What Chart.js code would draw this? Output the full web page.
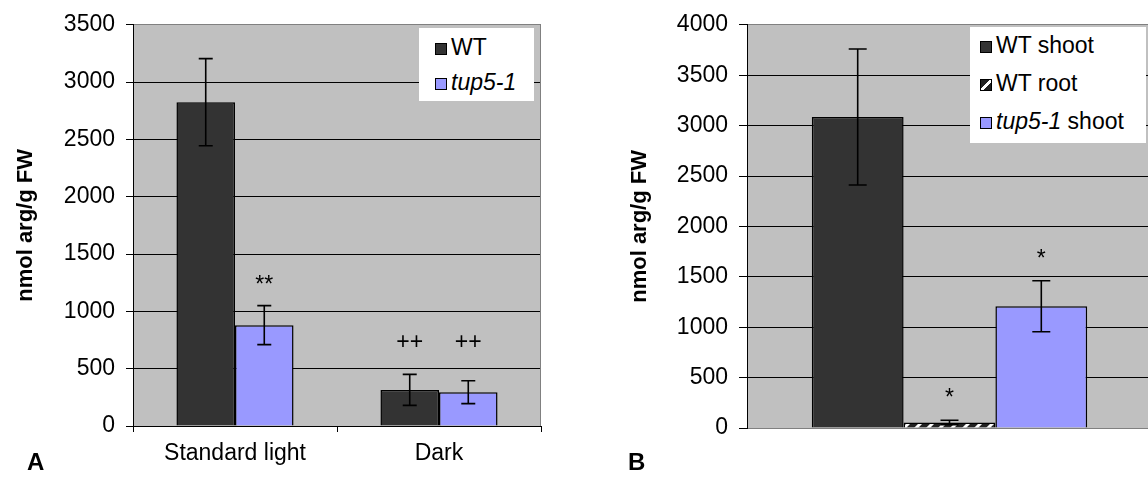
<!DOCTYPE html>
<html>
<head>
<meta charset="utf-8">
<script src="https://cdn.jsdelivr.net/npm/chart.js"></script>
<style>
html, body { margin: 0; padding: 0; background: #fff; overflow: hidden; width: 1148px; height: 477px; }
body { position: relative; font-family: Arial, "Liberation Sans", sans-serif; color: #000; }
.wrap { position: absolute; top: 0; height: 477px; }
#wrapA { left: 0; width: 560px; }
#wrapB { left: 600px; width: 552px; }
.legend { position: absolute; background: #fff; font-size: 23px; }
.legend .row { position: absolute; white-space: nowrap; line-height: 24px; }
.sw { display: inline-block; width: 10px; height: 10px; border: 1px solid #000; margin-right: 4px; vertical-align: 0px; }
.panel { position: absolute; font-weight: bold; font-size: 24px; line-height: 24px; }
</style>
</head>
<body>
<div class="wrap" id="wrapA"><canvas id="chartA"></canvas></div>
<div class="wrap" id="wrapB"><canvas id="chartB"></canvas></div>
<div class="legend" id="legA" style="left:419px;top:28px;width:115px;height:73px"></div>
<div class="legend" id="legB" style="left:970px;top:27px;width:176px;height:116px"></div>
<div class="panel" style="left:27px;top:450px">A</div>
<div class="panel" style="left:628px;top:450px">B</div>

<script>
// panel A: standard light vs dark
const catsA = ['Standard light', 'Dark'];
const wtA = [2825, 315];
const wtErrA = [380, 135];
const tupA = [880, 295];
const tupErrA = [170, 100];
const wtMarksA = ['', '++'];
const wtMarkAtA = [null, 675];
const tupMarksA = ['**', '++'];
const tupMarkAtA = [1165, 675];

// panel B: shoot vs root
const catsB = [''];
const namesB = ['WT shoot', 'WT root', 'tup5-1 shoot'];
const valsB = [3085, 55, 1208];
const errsB = [675, 22, 253];
const marksB = ['', '*', '*'];
const markAtB = [null, 228, 1608];

const DARK = '#333333';
const BLUE = '#9999ff';
const FONT = 'Arial, "Liberation Sans", sans-serif';

function hatch() {
    const c = document.createElement('canvas');
    c.width = 12; c.height = 12;
    const g = c.getContext('2d');
    g.fillStyle = '#222';
    g.fillRect(0, 0, 12, 12);
    g.strokeStyle = '#fff';
    g.lineWidth = 3;
    g.beginPath();
    g.moveTo(-2, 14); g.lineTo(14, -2);
    g.stroke();
    return g.createPattern(c, 'repeat');
}

const plotBg = {
    id: 'plotBg',
    beforeDraw(chart) {
        const { ctx, chartArea: a } = chart;
        ctx.save();
        ctx.fillStyle = '#c0c0c0';
        ctx.fillRect(a.left, a.top, a.right - a.left, a.bottom - a.top);
        ctx.restore();
    },
    beforeDatasetsDraw(chart) {
        const { ctx, chartArea: a } = chart;
        ctx.save();
        ctx.strokeStyle = '#808080';
        ctx.lineWidth = 1;
        ctx.beginPath();
        ctx.moveTo(Math.round(a.right) - 0.5, a.top);
        ctx.lineTo(Math.round(a.right) - 0.5, a.bottom);
        ctx.stroke();
        ctx.restore();
    }
};

const errorBars = {
    id: 'errorBars',
    afterDatasetsDraw(chart, args, opts) {
        const ctx = chart.ctx, y = chart.scales.y;
        ctx.save();
        ctx.strokeStyle = '#000';
        ctx.fillStyle = '#000';
        ctx.lineWidth = 1.6;
        ctx.font = '23px ' + FONT;
        ctx.textAlign = 'center';
        ctx.textBaseline = 'alphabetic';
        chart.data.datasets.forEach((ds, i) => {
            chart.getDatasetMeta(i).data.forEach((bar, j) => {
                const v = ds.data[j], e = ds.errors[j];
                const yt = y.getPixelForValue(v + e), yb = y.getPixelForValue(v - e);
                const x = bar.x, w = opts.cap / 2;
                ctx.beginPath();
                ctx.moveTo(x, yt); ctx.lineTo(x, yb);
                ctx.moveTo(x - w, yt); ctx.lineTo(x + w, yt);
                ctx.moveTo(x - w, yb); ctx.lineTo(x + w, yb);
                ctx.stroke();
                if (ds.marks[j]) ctx.fillText(ds.marks[j], x, y.getPixelForValue(ds.markAt[j]));
            });
        });
        ctx.restore();
    }
};

function yAxis(max, width, tickLen, titlePad) {
    return {
        min: 0, max: max,
        ticks: { stepSize: 500, color: '#000', padding: 11, font: { family: FONT, size: 23 },
                 callback: v => String(v) },
        grid: {
            color: c => c.tick && c.tick.value === max ? '#808080' : '#000',
            tickColor: '#000', tickLength: tickLen, lineWidth: 1
        },
        border: { color: '#000' },
        title: {
            display: true, text: 'nmol arg/g FW', color: '#000',
            font: { family: FONT, size: 22, weight: 'bold' }, padding: titlePad
        },
        afterFit(s) { s.width = width; }
    };
}

const common = {
    responsive: true,
    maintainAspectRatio: false,
    animation: false,
    events: [],
    plugins: { legend: { display: false }, tooltip: { enabled: false } }
};

new Chart(document.getElementById('chartA'), {
    type: 'bar',
    data: {
        labels: catsA,
        datasets: [
            { label: 'WT', data: wtA, errors: wtErrA, marks: wtMarksA, markAt: wtMarkAtA,
              backgroundColor: DARK, borderColor: '#000', borderWidth: 1.5,
              barPercentage: 1, categoryPercentage: 0.574 },
            { label: 'tup5-1', data: tupA, errors: tupErrA, marks: tupMarksA, markAt: tupMarkAtA,
              backgroundColor: BLUE, borderColor: '#000', borderWidth: 1.5,
              barPercentage: 1, categoryPercentage: 0.574 }
        ]
    },
    options: {
        ...common,
        layout: { padding: { top: 22, right: 19, left: 0, bottom: 0 } },
        plugins: { ...common.plugins, errorBars: { cap: 14 } },
        scales: {
            x: {
                grid: { drawOnChartArea: false, color: '#000', tickLength: 6, offset: true },
                border: { color: '#000' },
                ticks: { color: '#000', padding: 8, maxRotation: 0, font: { family: FONT, size: 23 } },
                afterFit(s) { s.height = 51; }
            },
            y: yAxis(3500, 133, 7, { top: 13, bottom: 0 })
        }
    },
    plugins: [plotBg, errorBars]
});

const fillsB = [DARK, hatch(), BLUE];
new Chart(document.getElementById('chartB'), {
    type: 'bar',
    data: {
        labels: catsB,
        datasets: namesB.map((n, i) => ({
            label: n, data: [valsB[i]], errors: [errsB[i]], marks: [marksB[i]], markAt: [markAtB[i]],
            backgroundColor: fillsB[i], borderColor: '#000', borderWidth: 1.5,
            barPercentage: 1, categoryPercentage: 0.68
        }))
    },
    options: {
        ...common,
        layout: { padding: { top: 23, right: 0, left: 0, bottom: 0 } },
        plugins: { ...common.plugins, errorBars: { cap: 18 } },
        scales: {
            x: {
                grid: { display: false },
                border: { color: '#808080' },
                ticks: { display: false },
                afterFit(s) { s.height = 49; }
            },
            y: yAxis(4000, 147, 8, { top: 27, bottom: 0 })
        }
    },
    plugins: [plotBg, errorBars]
});

// legends as html overlays
function legend(el, items, spacing, top, left) {
    items.forEach((it, i) => {
        const row = document.createElement('div');
        row.className = 'row';
        row.style.top = (top + i * spacing) + 'px';
        row.style.left = left + 'px';
        row.innerHTML = `<span class="sw" style="background:${it.bg}"></span>${it.html}`;
        el.appendChild(row);
    });
}
const diag = 'linear-gradient(135deg,#222 45%,#fff 45%,#fff 65%,#222 65%)';
legend(document.getElementById('legA'), [
    { bg: DARK, html: 'WT' },
    { bg: BLUE, html: '<i>tup5-1</i>' }
], 35, 7, 16);
legend(document.getElementById('legB'), [
    { bg: DARK, html: namesB[0] },
    { bg: diag, html: namesB[1] },
    { bg: BLUE, html: '<i>tup5-1</i>&nbsp;shoot' }
], 38, 6, 10);
</script>
</body>
</html>
